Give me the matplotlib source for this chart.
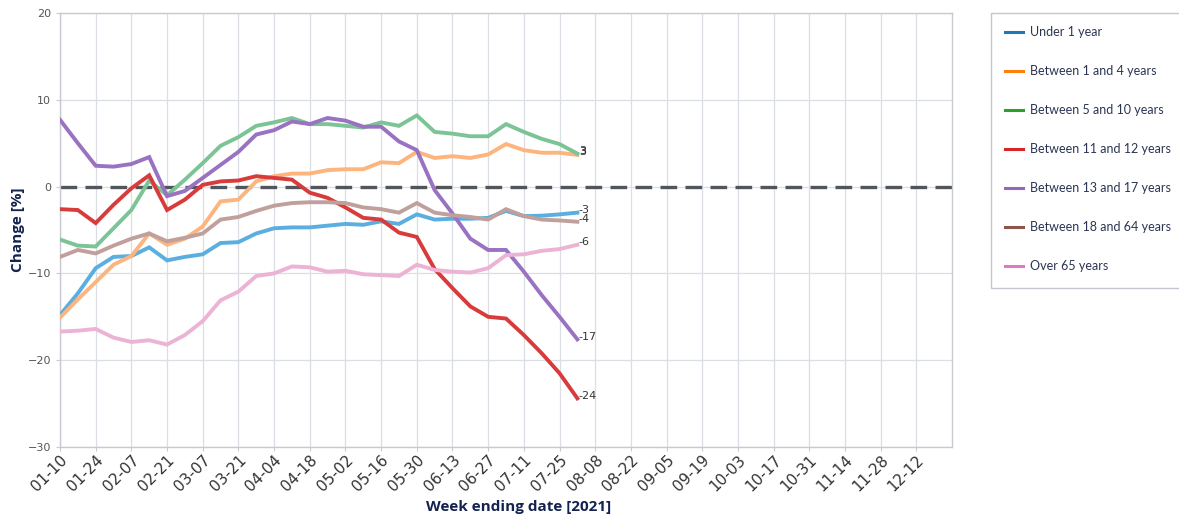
import numpy as np
import pandas as pd
import matplotlib
matplotlib.use("Agg")
import matplotlib.pyplot as plt
import matplotlib.dates as mdates
from matplotlib.lines import Line2D
from matplotlib.patches import Rectangle

# Week ending dates (2021)
weeks = ["2021-01-10", "2021-01-17", "2021-01-24", "2021-01-31", "2021-02-07",
         "2021-02-14", "2021-02-21", "2021-02-28", "2021-03-07", "2021-03-14",
         "2021-03-21", "2021-03-28", "2021-04-04", "2021-04-11", "2021-04-18",
         "2021-04-25", "2021-05-02", "2021-05-09", "2021-05-16", "2021-05-23",
         "2021-05-30", "2021-06-06", "2021-06-13", "2021-06-20", "2021-06-27",
         "2021-07-04", "2021-07-11", "2021-07-18", "2021-07-25", "2021-08-01"]

under_1 = [-14.8, -12.3, -9.4, -8.1, -8.0, -7.0, -8.5, -8.1, -7.8, -6.5,
           -6.4, -5.4, -4.8, -4.7, -4.7, -4.5, -4.3, -4.4, -4.0, -4.3,
           -3.2, -3.8, -3.7, -3.7, -3.6, -2.8, -3.4, -3.35, -3.2, -3.0]
age_1_4 = [-15.1, -13.0, -11.0, -9.0, -8.0, -5.4, -6.7, -6.0, -4.6, -1.7,
           -1.5, 0.6, 1.2, 1.5, 1.5, 1.9, 2.0, 2.0, 2.8, 2.7,
           4.0, 3.3, 3.5, 3.3, 3.7, 4.9, 4.2, 3.9, 3.9, 3.65]
age_5_10 = [-6.1, -6.8, -6.9, -4.8, -2.7, 0.7, -1.0, 0.8, 2.7, 4.7,
            5.7, 7.0, 7.4, 7.9, 7.2, 7.2, 7.0, 6.8, 7.4, 7.0,
            8.2, 6.3, 6.1, 5.8, 5.8, 7.2, 6.3, 5.5, 4.9, 3.8]
age_11_12 = [-2.6, -2.7, -4.2, -2.1, -0.2, 1.3, -2.7, -1.5, 0.2, 0.6,
             0.7, 1.2, 1.0, 0.8, -0.7, -1.3, -2.4, -3.6, -3.8, -5.3,
             -5.8, -9.5, -11.7, -13.8, -15.0, -15.2, -17.1, -19.2, -21.5, -24.4]
age_13_17 = [7.7, 5.0, 2.4, 2.3, 2.6, 3.4, -1.1, -0.5, 1.0, 2.5,
             4.0, 6.0, 6.5, 7.5, 7.2, 7.9, 7.6, 6.9, 6.9, 5.2,
             4.2, -0.4, -3.1, -6.0, -7.3, -7.3, -9.8, -12.5, -15.0, -17.6]
age_18_64 = [-8.1, -7.3, -7.7, -6.8, -6.0, -5.4, -6.3, -5.9, -5.4, -3.8,
             -3.5, -2.8, -2.2, -1.9, -1.8, -1.8, -1.9, -2.4, -2.6, -3.0,
             -1.9, -3.0, -3.3, -3.5, -3.8, -2.6, -3.4, -3.8, -3.9, -4.05]
over_65 = [-16.7, -16.6, -16.4, -17.4, -17.9, -17.7, -18.2, -17.1, -15.5, -13.1,
           -12.1, -10.3, -10.0, -9.2, -9.3, -9.8, -9.7, -10.1, -10.2, -10.3,
           -9.0, -9.6, -9.8, -9.9, -9.4, -7.9, -7.8, -7.4, -7.2, -6.7]

labels = ["Under 1 year", "Between 1 and 4 years", "Between 5 and 10 years",
          "Between 11 and 12 years", "Between 13 and 17 years",
          "Between 18 and 64 years", "Over 65 years"]
series = [under_1, age_1_4, age_5_10, age_11_12, age_13_17, age_18_64, over_65]

line_colors = ["#5aaee0", "#fdb47d", "#7cc496", "#d83b3b", "#9a72c2", "#c0a09c", "#ecb3d5"]
legend_colors = ["#1f77b4", "#ff7f0e", "#2ca02c", "#d62728", "#9467bd", "#8c564b", "#e377c2"]

dates = pd.to_datetime(weeks)
navy = "#14224f"

fig = plt.figure(figsize=(11.79, 5.19), dpi=100)
ax = fig.add_axes([60 / 1179, 1 - 447 / 519, (952 - 60) / 1179, (447 - 13) / 519])

for vals, c in zip(series, line_colors):
    ax.plot(dates, vals, color=c, lw=2.8, solid_joinstyle="miter", zorder=3)
    ax.annotate(f"{int(vals[-1])}", (dates[-1], vals[-1]), xytext=(1, 2),
                textcoords="offset points", va="center", ha="left",
                fontsize=8, color="#333333", zorder=4)

ax.axhline(0, color="#50565c", lw=2.4, linestyle=(0, (5, 2.5)), zorder=2)

# axes styling
ax.set_ylim(-30, 20)
ax.set_yticks([-30, -20, -10, 0, 10, 20])
ax.set_xlim(pd.Timestamp("2021-01-10"), pd.Timestamp("2021-12-26"))
xt = pd.to_datetime(["2021-01-10", "2021-01-24", "2021-02-07", "2021-02-21", "2021-03-07",
                     "2021-03-21", "2021-04-04", "2021-04-18", "2021-05-02", "2021-05-16",
                     "2021-05-30", "2021-06-13", "2021-06-27", "2021-07-11", "2021-07-25",
                     "2021-08-08", "2021-08-22", "2021-09-05", "2021-09-19", "2021-10-03",
                     "2021-10-17", "2021-10-31", "2021-11-14", "2021-11-28", "2021-12-12"])
ax.set_xticks(xt)
ax.xaxis.set_major_formatter(mdates.DateFormatter("%m-%d"))
plt.setp(ax.get_xticklabels(), rotation=45, ha="right", rotation_mode="anchor",
         fontsize=11, color="#333333")
plt.setp(ax.get_yticklabels(), fontsize=8, color="#555555")
ax.tick_params(axis="both", length=3, color="#c8cad2", width=0.8)
ax.tick_params(axis="x", pad=1)
ax.grid(True, color="#dcdee6", lw=0.9, zorder=0)
for s in ax.spines.values():
    s.set_color("#c8cad2")
    s.set_linewidth(1.0)

ax.set_ylabel("Change [%]", fontsize=11, fontweight="bold", color=navy,
              family="Open Sans")
ax.yaxis.set_label_coords(-0.039, 0.5)
fig.text(519 / 1179, 1 - 507 / 519, "Week ending date [2021]", fontsize=11,
         fontweight="bold", color=navy, family="Open Sans", ha="center", va="center")

# legend with a box running off the right edge
fig.patches.append(Rectangle((991 / 1179, 1 - 288 / 519), 0.3, (288 - 13) / 519,
                             transform=fig.transFigure, fill=False,
                             edgecolor="#c4c6d4", lw=1.0))
handles = [Line2D([0], [0], color=c, lw=2.2) for c in legend_colors]
fig.legend(handles, labels, loc="upper left", bbox_to_anchor=(994 / 1179, 1 - 15 / 519),
           frameon=False, handlelength=1.4, handletextpad=0.6, labelspacing=2.16,
           prop={"family": "Lato", "size": 9}, labelcolor="#2b3553")

fig.savefig("out.png", dpi=100)
